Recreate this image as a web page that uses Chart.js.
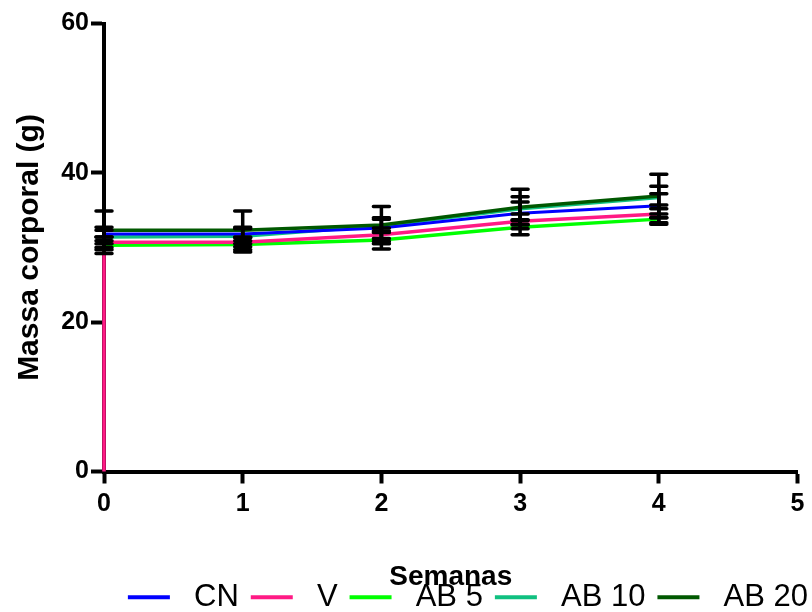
<!DOCTYPE html>
<html>
<head>
<meta charset="utf-8">
<script src="https://cdn.jsdelivr.net/npm/chart.js@4.4.0/dist/chart.umd.min.js"></script>
<style>
  html, body { margin: 0; padding: 0; background: #fff; }
  #wrap { width: 812px; height: 612px; }
</style>
</head>
<body>
<div id="wrap"><canvas id="chart-massa" width="812" height="612"></canvas></div>
<script>
// semanas (eixo x) e ticks
const weeks = [0, 1, 2, 3, 4];
const weeksV = [0, 0, 1, 2, 3, 4];   // V tem um ponto extra em 0 g na semana 0
const xTicks = [0, 1, 2, 3, 4, 5];
const yTicks = [0, 20, 40, 60];

// medias e erro padrao (g)
const meanCN = [31.8, 31.8, 32.6, 34.6, 35.6];
const semCN = [0.9, 0.9, 1.4, 1.5, 1.6];
const meanV = [0, 30.7, 30.7, 31.7, 33.5, 34.5];
const semV = [0, 0.7, 0.6, 0.9, 1.0, 1.2];
const meanAB5 = [30.3, 30.4, 31.0, 32.7, 33.8];
const semAB5 = [1.1, 1.0, 1.2, 1.0, 0.7];
const meanAB10 = [31.4, 31.5, 32.9, 35.2, 36.7];
const semAB10 = [0.9, 1.0, 0.9, 1.6, 1.5];
const meanAB20 = [32.3, 32.3, 33.0, 35.4, 36.9];
const semAB20 = [2.6, 2.6, 2.5, 2.4, 2.9];

const seriesNames = ['CN', 'V', 'AB 5', 'AB 10', 'AB 20'];
const seriesColors = ['#0000ff', '#ff1a85', '#00ff00', '#10c080', '#005800'];

const FONT = "'Liberation Sans', Arial, sans-serif";

const toPoints = (xs, ys, errs) => xs.map((x, i) => ({ x: x, y: ys[i], sem: errs[i] }));

const seriesData = [
    toPoints(weeks, meanCN, semCN),
    toPoints(weeksV, meanV, semV),
    toPoints(weeks, meanAB5, semAB5),
    toPoints(weeks, meanAB10, semAB10),
    toPoints(weeks, meanAB20, semAB20),
];

const datasets = seriesData.map((data, i) => ({
    label: seriesNames[i],
    data: data,
    borderColor: seriesColors[i],
    backgroundColor: seriesColors[i],
    borderWidth: i === 0 ? 3 : 3.5,
    pointRadius: 0,
    pointHoverRadius: 0,
    tension: 0,
    clip: false,
    order: i === 4 ? -1 : 0,
}));

// barras de erro pretas (media +/- EPM) com traco horizontal
const errorBars = {
    id: 'errorBars',
    afterDatasetsDraw(chart) {
        const { ctx, scales: { x, y } } = chart;
        ctx.save();
        ctx.strokeStyle = '#000';
        ctx.lineWidth = 3.5;
        ctx.lineCap = 'round';
        chart.data.datasets.forEach(ds => {
            ds.data.forEach(p => {
                if (!p.sem) return;
                const px = x.getPixelForValue(p.x);
                const top = y.getPixelForValue(p.y + p.sem);
                const bot = y.getPixelForValue(p.y - p.sem);
                ctx.beginPath();
                ctx.moveTo(px, top);
                ctx.lineTo(px, bot);
                ctx.moveTo(px - 8, top);
                ctx.lineTo(px + 8, top);
                ctx.moveTo(px - 8, bot);
                ctx.lineTo(px + 8, bot);
                ctx.stroke();
            });
        });
        ctx.restore();
    }
};

const chartMassa = new Chart(document.getElementById('chart-massa'), {
    type: 'line',
    data: { datasets: datasets },
    plugins: [errorBars],
    options: {
        responsive: false,
        animation: false,
        devicePixelRatio: 1,
        events: [],
        layout: {
            padding: { top: 23.5, left: 0, right: -8, bottom: -10.8 }
        },
        scales: {
            x: {
                type: 'linear',
                min: 0,
                max: 5,
                afterBuildTicks: s => { s.ticks = xTicks.map(v => ({ value: v })); },
                afterFit: s => { s.height = 98.3; },
                grid: {
                    display: true,
                    drawOnChartArea: false,
                    drawTicks: true,
                    tickLength: 12,
                    tickWidth: 4,
                    tickColor: '#000',
                },
                border: { display: true, color: '#000', width: 4 },
                ticks: {
                    color: '#000',
                    padding: 5.5,
                    maxRotation: 0,
                    font: { family: FONT, size: 25, weight: 'bold' },
                },
                title: {
                    display: true,
                    text: 'Semanas',
                    color: '#000',
                    padding: { top: 0, bottom: -24.5 },
                    font: { family: FONT, size: 28, weight: 'bold' },
                },
            },
            y: {
                type: 'linear',
                min: 0,
                max: 60,
                afterBuildTicks: s => { s.ticks = yTicks.map(v => ({ value: v })); },
                afterFit: s => { s.width = 104; },
                grid: {
                    display: true,
                    drawOnChartArea: false,
                    drawTicks: true,
                    tickLength: 13,
                    tickWidth: 4,
                    tickColor: '#000',
                },
                border: { display: true, color: '#000', width: 4 },
                ticks: {
                    color: '#000',
                    padding: 2,
                    font: { family: FONT, size: 25, weight: 'bold' },
                },
                title: {
                    display: true,
                    text: 'Massa corporal (g)',
                    color: '#000',
                    padding: { top: 12, bottom: 0 },
                    font: { family: FONT, size: 30, weight: 'bold' },
                },
            },
            // espaco a direita do eixo x, sem desenho
            spacer: {
                type: 'linear',
                position: 'right',
                display: true,
                afterFit: s => { s.width = 22.5; },
                grid: { display: false },
                border: { display: false },
                ticks: { display: false },
            },
        },
        plugins: {
            tooltip: { enabled: false },
            legend: {
                position: 'bottom',
                align: 'end',
                labels: {
                    boxWidth: 42,
                    boxHeight: 4,
                    padding: 12,
                    color: '#000',
                    font: { family: FONT, size: 31 },
                    generateLabels: chart => chart.data.datasets.map((ds, i) => ({
                        text: ' ' + ds.label,
                        fillStyle: ds.borderColor,
                        strokeStyle: ds.borderColor,
                        lineWidth: 0,
                        fontColor: '#000',
                        hidden: false,
                        datasetIndex: i,
                    })),
                },
            },
        },
    },
});
</script>
</body>
</html>
